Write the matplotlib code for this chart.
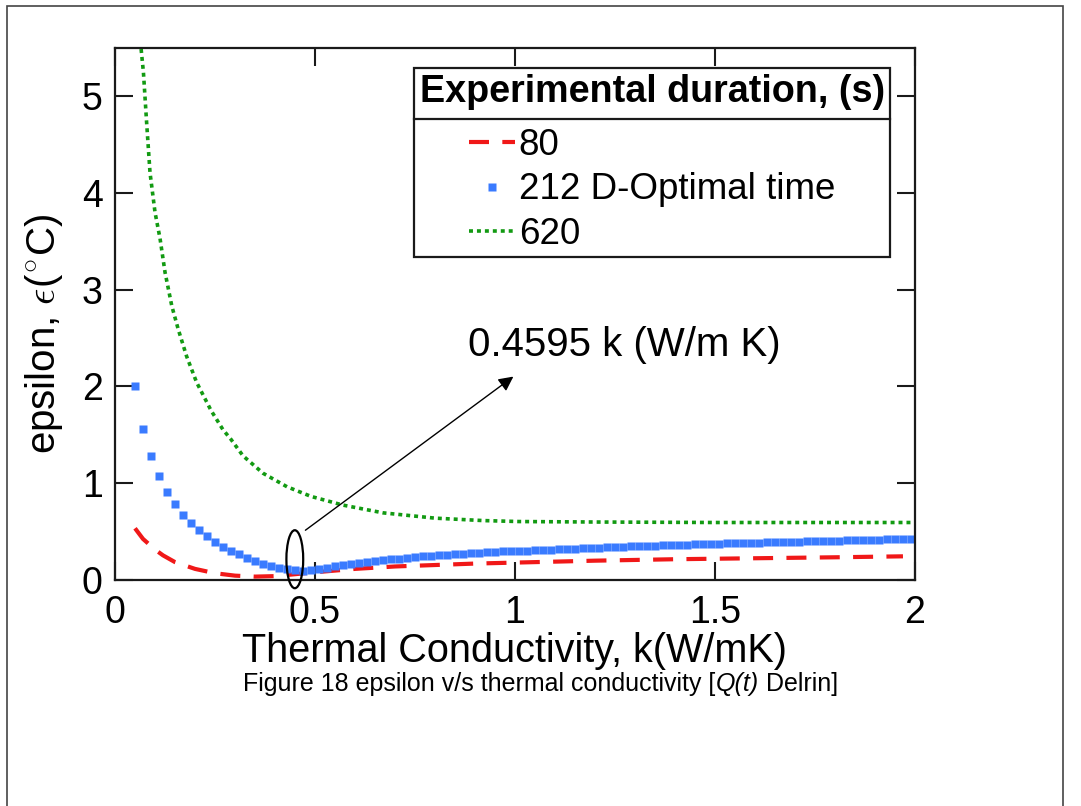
"""
plot.py - epsilon vs thermal conductivity for three experiment durations
(Q(t), Delrin), with the D-optimal minimum marked.
"""

import matplotlib
matplotlib.use("Agg")
import matplotlib.pyplot as plt
from matplotlib.patches import Ellipse, Rectangle
from matplotlib.lines import Line2D

plt.rcParams["font.family"] = ["Liberation Sans", "DejaVu Sans"]

# ---- data ---------------------------------------------------------------
# 80 s (red dashed)
K_80 = [0.05, 0.07, 0.10, 0.12, 0.15, 0.20, 0.25, 0.30, 0.35, 0.40, 0.45,
        0.50, 0.60, 0.70, 0.80, 0.90, 1.00, 1.20, 1.40, 1.60, 1.80, 1.97]
EPS_80 = [0.53, 0.42, 0.31, 0.25, 0.18, 0.11, 0.065, 0.04, 0.03, 0.035, 0.055,
          0.075, 0.11, 0.135, 0.15, 0.165, 0.175, 0.195, 0.21, 0.22, 0.23, 0.24]

# 212 s, D-optimal time (blue squares)
K_212 = [0.05, 0.07, 0.09, 0.11, 0.13, 0.15, 0.17, 0.19, 0.21, 0.23,
         0.25, 0.27, 0.29, 0.31, 0.33, 0.35, 0.37, 0.39, 0.41, 0.43,
         0.45, 0.47, 0.49, 0.51, 0.53, 0.55, 0.57, 0.59, 0.61, 0.63,
         0.65, 0.67, 0.69, 0.71, 0.73, 0.75, 0.77, 0.79, 0.81, 0.83,
         0.85, 0.87, 0.89, 0.91, 0.93, 0.95, 0.97, 0.99, 1.01, 1.03,
         1.05, 1.07, 1.09, 1.11, 1.13, 1.15, 1.17, 1.19, 1.21, 1.23,
         1.25, 1.27, 1.29, 1.31, 1.33, 1.35, 1.37, 1.39, 1.41, 1.43,
         1.45, 1.47, 1.49, 1.51, 1.53, 1.55, 1.57, 1.59, 1.61, 1.63,
         1.65, 1.67, 1.69, 1.71, 1.73, 1.75, 1.77, 1.79, 1.81, 1.83,
         1.85, 1.87, 1.89, 1.91, 1.93, 1.95, 1.97, 1.99]
EPS_212 = [2.00, 1.56, 1.28, 1.07, 0.91, 0.78, 0.67, 0.58, 0.51, 0.45,
           0.39, 0.34, 0.30, 0.26, 0.22, 0.19, 0.16, 0.14, 0.12, 0.105,
           0.095, 0.09, 0.095, 0.105, 0.12, 0.135, 0.15, 0.16, 0.17, 0.18,
           0.19, 0.20, 0.21, 0.215, 0.225, 0.23, 0.24, 0.245, 0.25, 0.255,
           0.26, 0.265, 0.27, 0.275, 0.28, 0.285, 0.29, 0.295, 0.30, 0.30,
           0.305, 0.31, 0.31, 0.315, 0.32, 0.32, 0.325, 0.33, 0.33, 0.335,
           0.34, 0.34, 0.345, 0.345, 0.35, 0.35, 0.355, 0.355, 0.36, 0.36,
           0.365, 0.365, 0.37, 0.37, 0.375, 0.375, 0.38, 0.38, 0.38, 0.385,
           0.385, 0.39, 0.39, 0.39, 0.395, 0.395, 0.40, 0.40, 0.40, 0.405,
           0.405, 0.41, 0.41, 0.41, 0.415, 0.415, 0.42, 0.42]

# 620 s (green dotted)
K_620 = [0.06, 0.065, 0.071, 0.079, 0.0875, 0.10, 0.1125, 0.125, 0.142,
         0.158, 0.179, 0.204, 0.24, 0.27, 0.29, 0.32, 0.37, 0.43, 0.49,
         0.57, 0.67, 0.80, 0.92, 1.01, 1.20, 1.50, 1.80, 2.00]
EPS_620 = [5.90, 5.50, 5.25, 4.73, 4.21, 3.80, 3.53, 3.18, 2.83,
           2.59, 2.31, 2.04, 1.75, 1.55, 1.45, 1.28, 1.10, 0.96, 0.86,
           0.77, 0.69, 0.635, 0.61, 0.60, 0.595, 0.59, 0.59, 0.59]

LABELS = ["80", "212 D-Optimal time", "620"]
X_TICKS = [0, 0.5, 1, 1.5, 2]
X_TICKLABELS = ["0", "0.5", "1", "1.5", "2"]
Y_TICKS = [0, 1, 2, 3, 4, 5]

K_OPT = 0.4595
NOTE = "0.4595 k (W/m K)"
CAPTION = [("Figure 18 epsilon v/s thermal conductivity [", "normal"),
           ("Q(t)", "italic"),
           ("Delrin]", "normal")]

RED, BLUE, GREEN = "#f01818", "#3a7bff", "#129a12"
INK = "#1a1a1a"


def draw_caption(fig, r, y, size):
    """Caption in pieces so Q(t) can be italic; centred as a whole."""
    texts = [fig.text(0, y, s, fontsize=size, style=st, va="center")
             for s, st in CAPTION]
    probe_a = fig.text(0, y, "x x", fontsize=size)
    probe_b = fig.text(0, y, "xx", fontsize=size)
    space = (probe_a.get_window_extent(r).width
             - probe_b.get_window_extent(r).width)
    probe_a.remove()
    probe_b.remove()
    widths = [t.get_window_extent(r).width for t in texts]
    total = sum(widths) + space
    x = fig.bbox.width * 0.4995 - total / 2
    for i, (t, w) in enumerate(zip(texts, widths)):
        t.set_x(x / fig.bbox.width)
        x += w + (space if i == 1 else 1)


def main():
    fig = plt.figure(figsize=(10.81, 8.06), dpi=100)
    ax = fig.add_axes([0.1064, 0.281, 0.740, 0.6594])

    ax.plot(K_80, EPS_80, color=RED, lw=3.0, dashes=(4.8, 3.2),
            label=LABELS[0])
    ax.plot(K_212, EPS_212, ls="none", marker="s", ms=5.2, mec="none",
            color=BLUE, label=LABELS[1])
    ax.plot(K_620, EPS_620, color=GREEN, lw=2.6, dashes=(1.1, 1.1),
            label=LABELS[2])

    ax.set_xlim(0, 2)
    ax.set_ylim(0, 5.5)
    ax.set_xticks(X_TICKS)
    ax.set_xticklabels(X_TICKLABELS)
    ax.set_yticks(Y_TICKS)
    ax.tick_params(direction="in", length=13, width=1.5, color=INK,
                   labelsize=27, top=True, right=True, pad=9)
    ax.tick_params(axis="x", pad=11)
    for s in ax.spines.values():
        s.set_linewidth(1.6)
        s.set_color(INK)

    ax.set_xlabel("Thermal Conductivity, k(W/mK)", fontsize=28.5, labelpad=1)
    ax.set_ylabel(r"epsilon, $\epsilon$($^{\circ}$C)", fontsize=29,
                  math_fontfamily="cm")
    ax.yaxis.set_label_coords(-0.063, 0.462)

    # marker around the optimum and the arrow to its note
    ax.add_patch(Ellipse((K_OPT - 0.01, 0.21), 0.042, 0.60, fill=False,
                         lw=1.6, color="black", clip_on=False, zorder=5))
    ax.annotate("", xy=(0.996, 2.10), xytext=(0.476, 0.51),
                arrowprops=dict(arrowstyle="-|>", lw=1.0, color="black",
                                mutation_scale=22, shrinkA=0, shrinkB=0))
    ax.text(0.8825, 2.43, NOTE, fontsize=29, ha="left", va="center")

    leg = ax.legend(loc="upper right", bbox_to_anchor=(0.969, 0.962),
                    borderaxespad=0, fontsize=26.5, fancybox=False,
                    framealpha=1, edgecolor=INK, handlelength=1.25,
                    handletextpad=0.1, labelspacing=0.25, borderpad=0.15,
                    numpoints=1,
                    title="Experimental duration, (s)",
                    title_fontproperties={"size": 27.2, "weight": "bold"})
    leg.get_frame().set_linewidth(1.6)
    leg._legend_box.sep = 13.3  # wider gap under the title

    fig.canvas.draw()
    r = fig.canvas.get_renderer()

    # separator under the legend title
    tb = leg.get_title().get_window_extent(r)
    eb = leg.get_texts()[0].get_window_extent(r)
    fb = leg.get_frame().get_window_extent(r)
    inv = fig.transFigure.inverted()
    ymid = (tb.y0 + eb.y1) / 2
    (x0, y0), (x1, _) = inv.transform([(fb.x0, ymid), (fb.x1, ymid)])
    fig.add_artist(Line2D([x0, x1], [y0, y0], lw=1.6, color=INK))

    draw_caption(fig, r, 0.151, 18)

    # page border
    fig.add_artist(Rectangle((7 / 1081, -0.05), (1063 - 7) / 1081,
                             0.05 + (806 - 6) / 806, transform=fig.transFigure,
                             fill=False, lw=1.2, edgecolor="#444444"))

    fig.savefig("out.png", dpi=100)
    plt.close(fig)


if __name__ == "__main__":
    main()
